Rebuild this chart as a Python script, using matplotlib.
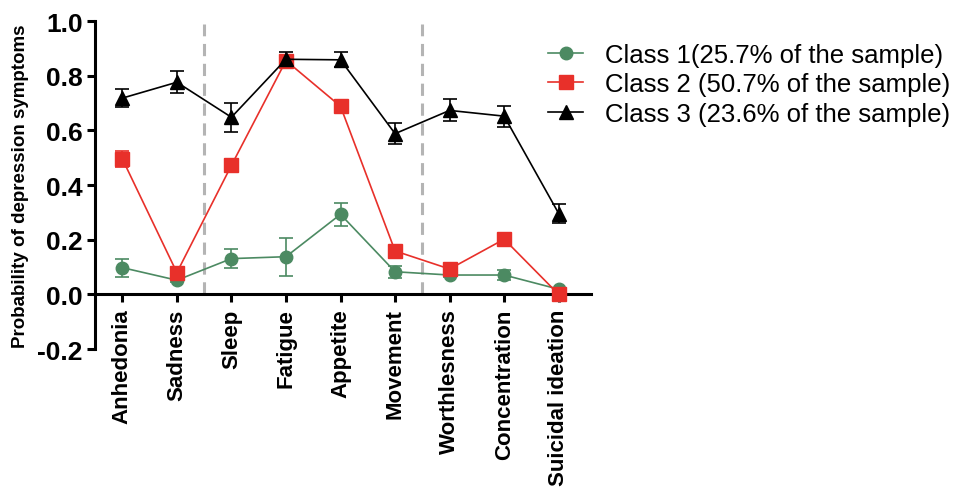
import numpy as np
import matplotlib
matplotlib.use("Agg")
import matplotlib.pyplot as plt
from matplotlib.lines import Line2D

plt.rcParams['font.family'] = ['Liberation Sans', 'DejaVu Sans']

# ── Données ─────────────────────────────────────────
symptoms = ['Anhedonia', 'Sadness', 'Sleep', 'Fatigue', 'Appetite',
            'Movement', 'Worthlesness', 'Concentration', 'Suicidal ideation']

class1 = [0.098, 0.052, 0.131, 0.138, 0.293, 0.083, 0.071, 0.071, 0.019]
class1_err = [0.033, 0.008, 0.035, 0.070, 0.041, 0.022, 0.008, 0.018, 0.006]

class2 = [0.496, 0.080, 0.472, 0.855, 0.688, 0.159, 0.093, 0.202, 0.000]
class2_err = [0.029, 0.010, 0.022, 0.022, 0.022, 0.010, 0.008, 0.010, 0.004]

class3 = [0.718, 0.776, 0.648, 0.860, 0.858, 0.588, 0.673, 0.652, 0.296]
class3_err = [0.032, 0.040, 0.053, 0.026, 0.028, 0.038, 0.040, 0.038, 0.036]

labels = ['Class 1(25.7% of the sample)',
          'Class 2 (50.7% of the sample)',
          'Class 3 (23.6% of the sample)']

colors = ['#4c8a62', '#e8302a', 'black']
markers = ['o', 's', '^']

# ── Figure ─────────────────────────────────────────
fig = plt.figure(figsize=(9.62, 4.89), dpi=100)
ax = fig.add_axes([0.0988, 0.284, 0.516, 0.671])

x = np.arange(len(symptoms))

for xv in [1.5, 5.5]:
    ax.plot([xv, xv], [0, 0.99], color='#b4b4b4', lw=2.2, ls=(0, (4, 2.5)), zorder=1)

for vals, errs, c, m in zip([class1, class2, class3],
                            [class1_err, class2_err, class3_err], colors, markers):
    ax.errorbar(x, vals, yerr=errs, color=c, marker=m, ms=10 if m != 'o' else 9,
                lw=1.2, capsize=5, capthick=1.2, elinewidth=1.2, zorder=3)

ax.spines['top'].set_visible(False)
ax.spines['right'].set_visible(False)
ax.spines['bottom'].set_position(('data', 0))
ax.spines['left'].set_linewidth(2.2)
ax.spines['bottom'].set_linewidth(2.2)
ax.tick_params(axis='both', width=2.2, length=6, direction='out')
ax.tick_params(axis='y', pad=3)
ax.tick_params(axis='x', pad=4)

ax.set_xlim(-0.5, 8.6)
ax.set_ylim(-0.2, 1.0)
ax.set_yticks([-0.2, 0.0, 0.2, 0.4, 0.6, 0.8, 1.0])
ax.set_yticklabels(['-0.2', '0.0', '0.2', '0.4', '0.6', '0.8', '1.0'],
                   fontsize=19, fontweight='bold')
ax.set_xticks(x)
ax.set_xticklabels(symptoms, rotation=90, fontsize=16, fontweight='bold')

ax.set_ylabel('Probability of depression symptoms', fontsize=13.5, fontweight='bold')
ax.yaxis.set_label_coords(-0.133, 0.5)

handles = [Line2D([], [], color=c, marker=m, lw=1.2, ms=9 if m == 'o' else 10)
           for c, m in zip(colors, markers)]
fig.legend(handles, labels, loc='upper left', bbox_to_anchor=(0.546, 0.958),
           frameon=False, fontsize=18.5, handlelength=1.35, labelspacing=0.22,
           handletextpad=0.85)

fig.savefig('out.png', dpi=100, facecolor='white')
